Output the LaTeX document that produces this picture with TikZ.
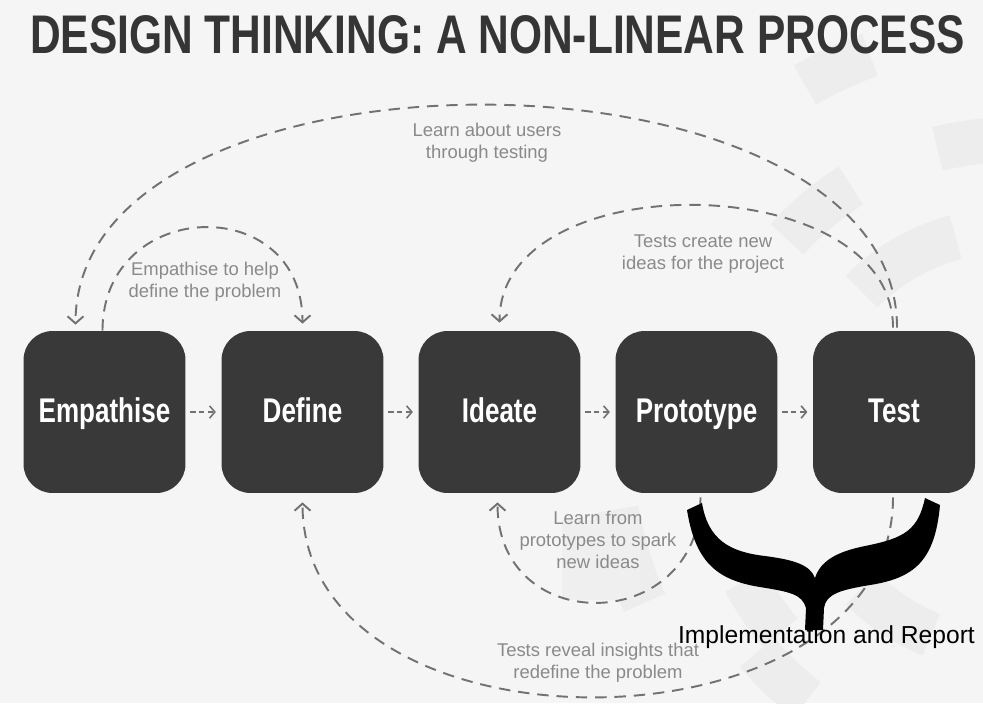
\documentclass[tikz,border=0pt]{standalone}
\usepackage{fontspec}
\usepackage{graphicx}
\setmainfont{Liberation Sans}
\newfontfamily\condfont[FakeStretch=0.76]{Liberation Sans}
\usetikzlibrary{arrows.meta,calc}
\definecolor{bggray}{HTML}{F5F5F5}
\definecolor{wmgray}{HTML}{EDEDED}
\definecolor{boxgray}{HTML}{393939}
\definecolor{linegray}{HTML}{727272}
\definecolor{labelgray}{HTML}{8A8A8A}
\definecolor{titlegray}{HTML}{353535}
\tikzset{
  stagebox/.style={fill=boxgray, rounded corners=0.58cm, minimum width=3.24cm,
    minimum height=3.24cm, text=white, text height=14.4pt, text depth=3pt,
    font=\condfont\bfseries\fontsize{19.5}{22}\selectfont},
  steparrow/.style={draw=linegray, line width=0.9pt, dash pattern=on 3pt off 2pt,
    -{Straight Barb[length=3pt,width=7pt]}, shorten <=2.5pt, shorten >=3pt},
  looparrow/.style={draw=linegray, line width=1.1pt, dash pattern=on 6.5pt off 4.5pt,
    -{Straight Barb[length=4pt,width=9pt]}},
  looplabel/.style={text=labelgray, align=center, font=\fontsize{10.5}{12.5}\selectfont},
  wmark/.style={draw=wmgray, line width=0.9cm}
}

\begin{document}
\begin{tikzpicture}[x=0.02cm, y=-0.02cm]
  % background
  \fill[bggray] (0,0) rectangle (983,703);
  \useasboundingbox (0,0) rectangle (983,703);

  % watermark rings
  \coordinate (wm) at (1010,440);
  \foreach \r/\a/\b in {210/225/255, 210/112/135, 300/222/238, 300/256/272,
                        300/140/152, 400/156/170, 330/128/140, 410/240/250}
    \draw[wmark] (wm) ++(\a:\r) arc[start angle=\a, end angle=\b, radius=\r];
  \fill[wmgray!70!bggray] (562,520) rectangle (640,600);

  % title
  \node[anchor=base, text=titlegray] (title) at (497.5,53)
    {\resizebox{18.7cm}{0.76cm}{\bfseries DESIGN THINKING: A NON-LINEAR PROCESS}};

  % stages
  \node[stagebox] (emp) at (104.5,412) {Empathise};
  \node[stagebox] (def) at (302.5,412) {Define};
  \node[stagebox] (ide) at (499.5,412) {Ideate};
  \node[stagebox] (pro) at (696.5,412) {Prototype};
  \node[stagebox] (tst) at (894,412) {Test};

  % forward arrows
  \foreach \a/\b in {emp/def, def/ide, ide/pro, pro/tst}
    \draw[steparrow] (\a) -- (\b);

  % loops above
  \draw[looparrow] ($(tst.north)+(3,-3)$) .. controls +(0,-295) and +(0,-295) .. ($(emp.north)+(-29,-6)$);
  \node[looplabel] (users) at (487,143) {Learn about users\\through testing};

  \draw[looparrow] ($(emp.north)+(-2,0)$) .. controls +(0,-133) and +(0,-133) .. ($(def.north)+(0,-7)$);
  \node[looplabel] (help) at (205,282) {Empathise to help\\define the problem};

  \draw[looparrow] ($(tst.north)+(-1,-3)$) .. controls +(0,-160) and +(0,-160) .. ($(ide.north)+(0,-8)$);
  \node[looplabel] (ideas) at (703,254) {Tests create new\\ideas for the project};

  % loops below
  \draw[looparrow] ($(pro.south)+(4,4)$) .. controls +(0,137) and +(0,137) .. ($(ide.south)+(-2,9)$);
  \node[looplabel] (spark) at (598,540) {Learn from\\prototypes to spark\\new ideas};

  \draw[looparrow] ($(tst.south)+(-1,4)$) .. controls +(0,263) and +(0,263) .. ($(def.south)+(0,9)$);
  \node[looplabel] (insights) at (598,663) {Tests reveal insights that\\redefine the problem};

  % brace
  \node[anchor=base, font=\fontsize{14}{16}\selectfont] (impl) at (826.5,643) {Implementation and Report};
  \fill[black] (687,510) -- (702,503)
    .. controls (708,540) and (730,552) .. (765,556)
    .. controls (795,560) and (810,565) .. (815,578)
    .. controls (820,562) and (835,552) .. (865,546)
    .. controls (905,538) and (918,530) .. (925,498)
    -- (940,505)
    .. controls (935,560) and (915,578) .. (870,585)
    .. controls (840,590) and (826,594) .. (824,608)
    -- (823,630) -- (805,630) -- (806,608)
    .. controls (802,594) and (790,592) .. (760,587)
    .. controls (715,580) and (695,560) .. (687,510) -- cycle;
\end{tikzpicture}
\end{document}
